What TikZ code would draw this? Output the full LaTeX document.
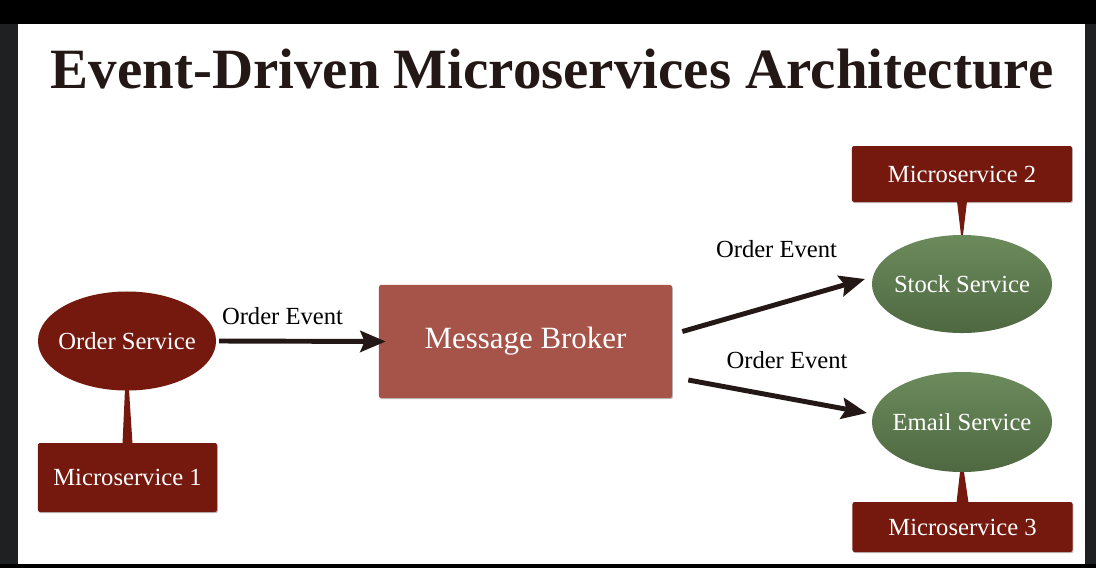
\documentclass[tikz,border=0pt]{standalone}
\usepackage{fontspec}
\setmainfont{Liberation Serif}
\usetikzlibrary{arrows.meta, shapes.geometric, calc, shadows}

\definecolor{darkred}{HTML}{75190E}
\definecolor{brokerred}{HTML}{A65349}
\definecolor{greentop}{HTML}{6C8B5C}
\definecolor{greenbot}{HTML}{4E6841}
\definecolor{arrowdark}{HTML}{231815}
\definecolor{screenframe}{HTML}{1F2022}

\begin{document}
\begin{tikzpicture}[x=0.025cm, y=-0.025cm,
  svc/.style={ellipse, inner xsep=-30pt, inner ysep=0pt, outer sep=0pt, text=white, font=\fontsize{17.5}{20}\selectfont},
  redsvc/.style={svc, fill=darkred},
  greensvc/.style={svc, top color=greentop, bottom color=greenbot},
  msbox/.style={rectangle, rounded corners=1.5pt, inner sep=0pt, fill=darkred, text=white,
    font=\fontsize{17.5}{20}\selectfont,
    drop shadow={shadow xshift=0.6pt, shadow yshift=-0.8pt, opacity=0.25, fill=black}},
  evt/.style={line width=3.5pt, draw=arrowdark, -{Stealth[length=18pt, width=15pt, inset=3pt]}},
  evtlabel/.style={anchor=base, font=\fontsize{17.5}{20}\selectfont, text=black}]
\fill[screenframe] (0,0) rectangle (1096,568);
\fill[black] (0,0) rectangle (1096,24);
\fill[black] (0,564) rectangle (1096,568);
\fill[white] (18,24) rectangle (1085,564);
\useasboundingbox (0,0) rectangle (1096,568);

\node[anchor=base, font=\bfseries\fontsize{40.5}{44}\selectfont, text=arrowdark] (ttl) at (552,88)
  {Event-Driven Microservices Architecture};

\node[redsvc, minimum width=4.45cm, minimum height=2.475cm] (os) at (127,341) {Order Service};
\node[msbox, minimum width=4.475cm, minimum height=1.725cm] (ms1) at (127.5,477.5) {Microservice 1};
\node[msbox, fill=brokerred, minimum width=7.325cm, minimum height=2.825cm,
  font=\fontsize{22}{26}\selectfont] (mb) at (525.5,341.5) {Message Broker};
\node[greensvc, minimum width=4.5cm, minimum height=2.45cm] (ss) at (962,284) {Stock Service};
\node[greensvc, minimum width=4.5cm, minimum height=2.5cm] (es) at (962,422) {Email Service};
\node[msbox, minimum width=5.5cm, minimum height=1.4cm] (ms2) at (962,174) {Microservice 2};
\node[msbox, minimum width=5.5cm, minimum height=1.25cm] (ms3) at (962.5,527) {Microservice 3};

\fill[darkred] ($(ms1.north)+(-5,1)$) -- ($(os.south)+(-2,-1)$) -- ($(os.south)+(2,-1)$) -- ($(ms1.north)+(5,1)$) -- cycle;
\fill[darkred] ($(ms2.south)+(-5,-1)$) -- ($(ss.north)+(-1,0)$) -- ($(ss.north)+(1,0)$) -- ($(ms2.south)+(5,-1)$) -- cycle;
\fill[darkred] ($(ms3.north)+(-6,1)$) -- ($(es.south)+(-2,0)$) -- ($(es.south)+(2,0)$) -- ($(ms3.north)+(6,1)$) -- cycle;

\draw[evt] ($(os.east)+(3,0)$) -- ($(mb.west)+(7,0)$);
\draw[evt] ($(mb.east)+(10,-10)$) -- ($(ss.west)+(-7,-5)$);
\draw[evt] ($(mb.east)+(16,38.5)$) -- ($(es.west)+(-5,-9)$);

\node[evtlabel] (lbl1) at (282.5,324) {Order Event};
\node[evtlabel] (lbl2) at (776.5,257) {Order Event};
\node[evtlabel] (lbl3) at (787,368) {Order Event};
\end{tikzpicture}
\end{document}
